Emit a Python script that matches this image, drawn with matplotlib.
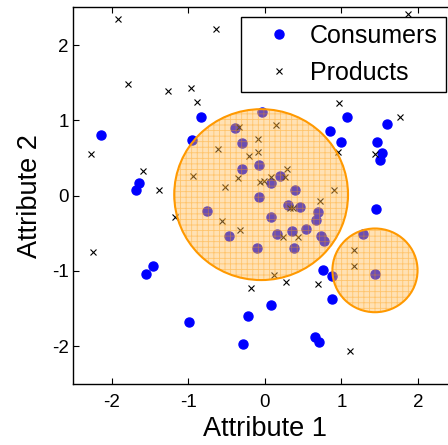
import matplotlib
matplotlib.use("Agg")
import matplotlib.pyplot as plt
from matplotlib.patches import Circle

plt.rcParams['font.family'] = ['Liberation Sans', 'DejaVu Sans']
plt.rcParams['hatch.linewidth'] = 0.6
plt.rcParams['axes.unicode_minus'] = False

# Consumers (blue dots)
cons_x = [-2.135, -0.837, -0.958, -1.648, -1.684, -0.391, -0.299, -0.299, -0.073, -0.039,
          -0.073, 1.073, 1.589, 0.846, 0.999, 1.467, 1.536, 1.503, 0.074, 0.204,
          0.396, 0.305, 0.465, 0.690, 0.673, 1.451, 0.083, 0.534, 0.357, 0.152,
          0.738, 0.777, -0.108, 0.378, 1.281, 1.432, 0.758, 0.875, -0.750, -0.469,
          -1.458, -1.557, -0.993, -0.225, 0.074, -0.281, 0.882, 0.660, 0.708]
cons_y = [0.808, 1.047, 0.738, 0.166, 0.069, 0.904, 0.698, 0.348, 0.405, 1.114,
          -0.017, 1.047, 0.954, 0.861, 0.715, 0.715, 0.569, 0.472, 0.170, 0.255,
          0.073, -0.126, -0.146, -0.222, -0.328, -0.183, -0.290, -0.439, -0.476, -0.512,
          -0.532, -0.609, -0.698, -0.698, -0.516, -1.046, -0.994, -1.067, -0.202, -0.534,
          -0.941, -1.047, -1.677, -1.601, -1.452, -1.969, -1.379, -1.876, -1.951]

# Products (crosses)
prod_x = [-1.922, -0.642, 1.875, -1.784, -1.263, -0.967, -0.885, 0.973, 1.767, -2.266,
          -1.596, -1.388, -2.247, -1.180, -0.607, -0.339, 0.139, -0.091, -0.091, -0.208,
          0.283, -0.346, -0.069, -0.013, 0.083, 0.257, -0.525, 0.716, 0.326, 0.361,
          -0.555, -0.329, 0.240, 0.435, 0.898, 0.951, 1.438, 1.159, 1.159, 0.117,
          0.279, 0.695, -0.182, 1.112, -0.938]
prod_y = [2.349, 2.217, 2.408, 1.482, 1.393, 1.429, 1.246, 1.225, 1.043, 0.548,
          0.322, 0.069, -0.747, -0.282, 0.618, 0.914, 0.937, 0.747, 0.582, 0.529,
          0.356, 0.233, 0.179, 0.197, 0.250, 0.250, 0.117, -0.073, -0.170, -0.170,
          -0.335, -0.462, -0.555, -0.555, 0.069, 0.582, 0.548, -0.720, -0.941, -1.052,
          -1.149, -1.180, -1.223, -2.062, 0.255]

# segments (circles): center x, center y, radius
seg_x = [-0.049, 1.438]
seg_y = [0.013, -0.993]
seg_r = [1.135, 0.556]

fig = plt.figure(figsize=(4.48, 4.45), dpi=100)
ax = fig.add_axes([0.164, 0.1375, 0.8545, 0.8459])

ax.plot(cons_x, cons_y, 'o', color='#0000FF', markersize=6.5, label='Consumers')
ax.plot(prod_x, prod_y, 'x', color='black', markersize=4.5, markeredgewidth=0.8,
        label='Products')

for cx, cy, r in zip(seg_x, seg_y, seg_r):
    # light fill plus grid hatch, then solid outline
    ax.add_patch(Circle((cx, cy), r, facecolor=(1.0, 0.72, 0.3, 0.42),
                        edgecolor=(1.0, 0.6, 0.0, 0.4), lw=0, hatch='+++', zorder=3))
    ax.add_patch(Circle((cx, cy), r, facecolor='none', edgecolor='#FF9900', lw=1.5,
                        zorder=4))

ax.set_xlim(-2.5, 2.5)
ax.set_ylim(-2.5, 2.5)
ax.set_xticks([-2, -1, 0, 1, 2])
ax.set_yticks([-2, -1, 0, 1, 2])
ax.tick_params(direction='in', top=True, right=True, length=4, labelsize=13.5, width=0.8)
ax.tick_params(axis='x', pad=7)
for s in ax.spines.values():
    s.set_linewidth(1.0)

ax.set_xlabel('Attribute 1', fontsize=19.5, labelpad=4)
ax.set_ylabel('Attribute 2', fontsize=19.5, labelpad=6)

leg = ax.legend(loc='upper right', bbox_to_anchor=(445.5 / 448, 1 - 16.7 / 445),
                bbox_transform=fig.transFigure, borderaxespad=0, fontsize=18,
                fancybox=False, framealpha=1, edgecolor='black', handlelength=2.46,
                handletextpad=0.0, borderpad=0.3, labelspacing=0.5)
leg.get_frame().set_linewidth(1.0)
leg.set_zorder(10)

fig.savefig('out.png', dpi=100)
